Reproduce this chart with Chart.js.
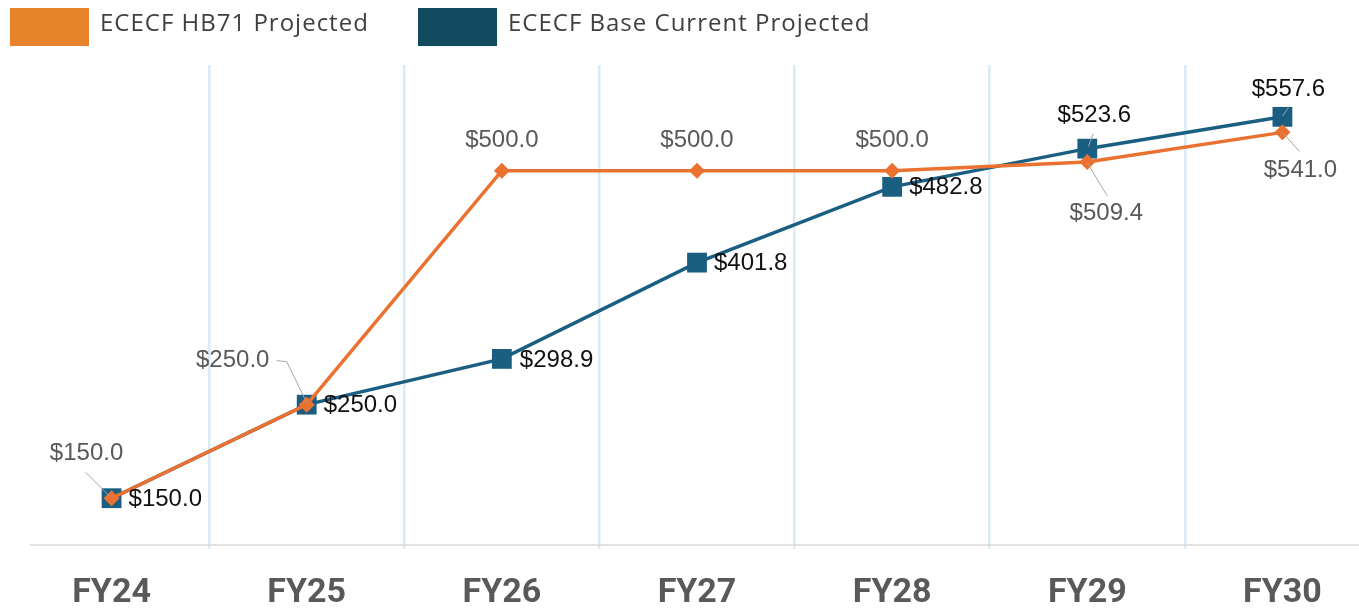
<!DOCTYPE html>
<html>
<head>
<meta charset="utf-8">
<script src="https://cdn.jsdelivr.net/npm/chart.js@4.4.1/dist/chart.umd.min.js"></script>
<style>
    html, body { margin: 0; padding: 0; background: #fff; overflow: hidden; }
    #wrap { position: relative; width: 1394px; height: 609px; }
    #chart { display: block; }
</style>
</head>
<body>
<div id="wrap"><canvas id="chart" width="1394" height="609"></canvas></div>
<script>
    var years = ['FY24', 'FY25', 'FY26', 'FY27', 'FY28', 'FY29', 'FY30'];
    var hb71Values = [150, 250, 500, 500, 500, 509.4, 541];
    var baseValues = [150, 250, 298.9, 401.8, 482.8, 523.6, 557.6];
    var seriesNames = ['ECECF HB71 Projected', 'ECECF Base Current Projected'];

    var orangeLine = '#ea7130';
    var orangeBox = '#e5822a';
    var blueLine = '#1a5f82';
    var blueBox = '#114a5f';

    // label placement relative to each point (dx, dy, align, leader polyline)
    var hb71Labels = [
        { dx: -25, dy: -45, align: 'center', leader: [[-26, -26], [-2, -2]] },
        { dx: -74, dy: -44, align: 'center', leader: [[-30, -44], [-20, -43], [0, -2]] },
        { dx: 0, dy: -30, align: 'center' },
        { dx: 0, dy: -30, align: 'center' },
        { dx: 0, dy: -30, align: 'center' },
        { dx: 19, dy: 51, align: 'center', leader: [[0, 1], [20, 34]] },
        { dx: 18, dy: 38, align: 'center', leader: [[0, 0], [17, 19]] }
    ];
    var baseLabels = [
        { dx: 17, dy: 1, align: 'left' },
        { dx: 17, dy: 1, align: 'left' },
        { dx: 18, dy: 1, align: 'left' },
        { dx: 17, dy: 1, align: 'left' },
        { dx: 17, dy: 1, align: 'left' },
        { dx: 7, dy: -33, align: 'center', leader: [[1, -2], [6, -15]] },
        { dx: 6, dy: -27, align: 'center', leader: [[0, -1], [6, -9]] }
    ];

    var labelSets = [
        { marks: hb71Labels, color: '#595959' },
        { marks: baseLabels, color: '#111111' }
    ];

    var valueLabels = {
        id: 'valueLabels',
        afterDatasetsDraw: function (chart) {
            var ctx = chart.ctx;
            ctx.save();
            ctx.font = '24px "Liberation Sans", Arial, sans-serif';
            ctx.textBaseline = 'middle';
            for (var d = 0; d < labelSets.length; d++) {
                var meta = chart.getDatasetMeta(d);
                var values = chart.data.datasets[d].data;
                var set = labelSets[d];
                for (var i = 0; i < meta.data.length; i++) {
                    var pt = meta.data[i];
                    var lab = set.marks[i];
                    if (lab.leader) {
                        ctx.strokeStyle = '#a6a6a6';
                        ctx.lineWidth = 1;
                        ctx.beginPath();
                        for (var k = 0; k < lab.leader.length; k++) {
                            var px = pt.x + lab.leader[k][0];
                            var py = pt.y + lab.leader[k][1];
                            if (k === 0) ctx.moveTo(px, py); else ctx.lineTo(px, py);
                        }
                        ctx.stroke();
                    }
                    ctx.fillStyle = set.color;
                    ctx.textAlign = lab.align;
                    ctx.fillText('$' + values[i].toFixed(1), pt.x + lab.dx, pt.y + lab.dy);
                }
            }
            ctx.restore();
        }
    };

    var topLegend = {
        id: 'topLegend',
        afterDraw: function (chart) {
            var ctx = chart.ctx;
            var items = [
                { x: 10, color: orangeBox, text: seriesNames[0] },
                { x: 418, color: blueBox, text: seriesNames[1] }
            ];
            ctx.save();
            ctx.font = '24px "Open Sans", sans-serif';
            ctx.letterSpacing = '1px';
            ctx.textBaseline = 'middle';
            ctx.textAlign = 'left';
            items.forEach(function (it) {
                ctx.fillStyle = it.color;
                ctx.fillRect(it.x, 8, 79, 38);
                ctx.fillStyle = '#404040';
                ctx.fillText(it.text, it.x + 90, 24);
            });
            ctx.letterSpacing = '0px';
            // bottom axis line
            var y = chart.chartArea.bottom;
            ctx.strokeStyle = '#d9d9d9';
            ctx.lineWidth = 1.5;
            ctx.beginPath();
            ctx.moveTo(30, y);
            ctx.lineTo(chart.width, y);
            ctx.stroke();
            ctx.restore();
        }
    };

    var chart = new Chart(document.getElementById('chart').getContext('2d'), {
        type: 'line',
        data: {
            labels: years,
            datasets: [
                {
                    label: seriesNames[0],
                    data: hb71Values,
                    borderColor: orangeLine,
                    backgroundColor: orangeLine,
                    borderWidth: 3.5,
                    pointStyle: 'rectRot',
                    pointRadius: 8,
                    pointHoverRadius: 8,
                    pointBorderWidth: 0,
                    tension: 0
                },
                {
                    label: seriesNames[1],
                    data: baseValues,
                    borderColor: blueLine,
                    backgroundColor: blueLine,
                    borderWidth: 3.5,
                    pointStyle: 'rect',
                    pointRadius: 14,
                    pointHoverRadius: 14,
                    pointBorderWidth: 0,
                    tension: 0
                }
            ]
        },
        options: {
            responsive: false,
            animation: false,
            layout: { padding: { top: 65, left: 12, right: 1, bottom: 0 } },
            plugins: {
                legend: { display: false },
                tooltip: { enabled: false }
            },
            scales: {
                x: {
                    offset: true,
                    border: { display: false },
                    afterFit: function (scale) { scale.height = 64; },
                    grid: {
                        offset: true,
                        lineWidth: 2.5,
                        tickLength: 4,
                        color: function (c) {
                            return c.index === 0 ? 'rgba(0,0,0,0)' : '#d7ecf6';
                        }
                    },
                    ticks: {
                        color: '#595959',
                        padding: 24,
                        font: { family: 'Roboto', size: 34, weight: 'bold' }
                    }
                },
                y: {
                    display: false,
                    min: 100,
                    max: 613
                }
            }
        },
        plugins: [valueLabels, topLegend]
    });
</script>
</body>
</html>
